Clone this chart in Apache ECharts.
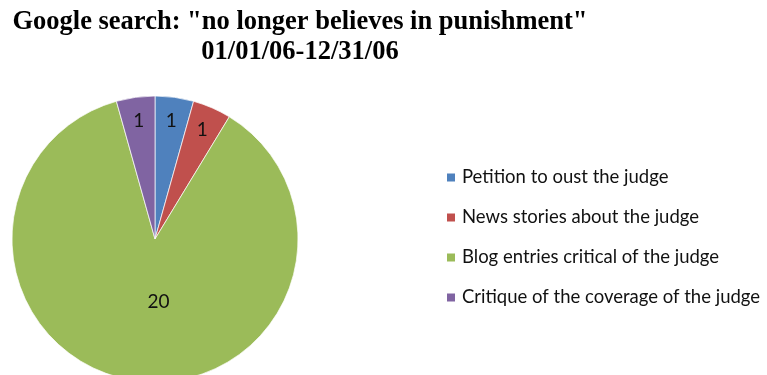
<!DOCTYPE html>
<html>
<head>
<meta charset="utf-8">
<script src="https://cdn.jsdelivr.net/npm/echarts@6/dist/echarts.min.js"></script>
<style>html,body{margin:0;padding:0;background:#fff;}#c{width:767px;height:375px;}</style>
</head>
<body>
<div id="c"></div>
<script>
var categories = ["Petition to oust the judge", "News stories about the judge", "Blog entries critical of the judge", "Critique of the coverage of the judge"];
var values = [1, 1, 20, 1];
var colors = ["#4F81BD", "#C0504D", "#9BBB59", "#8064A2"];
var labelRadiusFrac = [0.81, 0.81, 0.42, 0.81];
var labelShiftX = [0, 0, 12, 0];

var R = 143;
var total = values.reduce(function(a,b){return a+b;}, 0);
var acc = 0;
var data = values.map(function(v, i){
  var mid = (acc + v/2) / total * 2 * Math.PI; // clockwise from 12 o'clock
  acc += v;
  var extra = (labelRadiusFrac[i] - 0.5) * R;
  return {
    name: categories[i],
    value: v,
    itemStyle: {color: colors[i]},
    label: {offset: [Math.sin(mid) * extra + labelShiftX[i], -Math.cos(mid) * extra]}
  };
});

var chart = echarts.init(document.getElementById('c'), null, {renderer: 'canvas'});
chart.setOption({
  animation: false,
  backgroundColor: '#fff',
  title: {
    text: 'Google search: "no longer believes in punishment"\n01/01/06-12/31/06',
    left: 295, top: 2, textAlign: 'center',
    textStyle: {fontFamily: 'Liberation Serif', fontWeight: 'bold', fontSize: 26.5, color: '#000', lineHeight: 30}
  },
  legend: {
    orient: 'vertical', left: 440, top: 163,
    itemWidth: 10, itemHeight: 10, itemGap: 21, icon: 'rect',
    textStyle: {fontFamily: 'Lato', fontSize: 18.5, color: '#111', padding: [0,0,0,1]},
    data: categories
  },
  series: [{
    type: 'pie',
    center: [155, 239],
    radius: [0, R],
    startAngle: 90,
    clockwise: true,
    avoidLabelOverlap: false,
    itemStyle: {borderColor: '#fff', borderWidth: 0.7},
    label: {show: true, position: 'inside', formatter: '{c}', fontFamily: 'Lato', fontSize: 19, color: '#111'},
    labelLine: {show: false},
    data: data
  }]
});
</script>
</body>
</html>
